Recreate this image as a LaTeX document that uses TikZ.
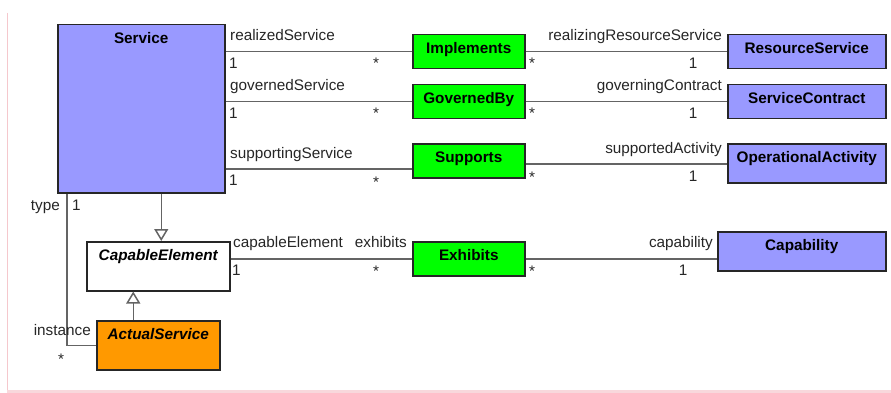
\documentclass[tikz,border=0pt]{standalone}
\usepackage{fontspec}
\setmainfont{Liberation Sans}
\usetikzlibrary{arrows.meta,positioning}
\definecolor{svcblue}{RGB}{153,153,255}
\definecolor{relgreen}{RGB}{0,255,0}
\definecolor{actorange}{RGB}{255,153,0}
\definecolor{lnkgray}{RGB}{100,100,100}
\definecolor{pageedge}{RGB}{245,200,205}

\begin{document}
\begin{tikzpicture}[x=1pt,y=-1pt]
\useasboundingbox (0,0) rectangle (891,393);
\tikzstyle{cls}=[draw=black!85, line width=1.5pt, anchor=north west, inner sep=0pt,
  text height=19pt, font=\fontsize{15.3}{18}\selectfont\bfseries]
\tikzstyle{abs}=[cls, font=\fontsize{15.3}{18}\selectfont\bfseries\itshape]
\tikzstyle{rel}=[cls, fill=relgreen, minimum width=112pt, text depth=15pt]
\tikzstyle{role}=[inner sep=0pt, text=black!85, font=\fontsize{15.3}{18}\selectfont]
\tikzstyle{assoc}=[draw=lnkgray, line width=1.5pt]
\tikzstyle{gen}=[assoc, -{Triangle[open, length=12pt, width=14pt, fill=white]}]
% page edge
\draw[pageedge, line width=0.8pt] (7,13) -- (7,393);
\fill[pageedge!70] (7,390) rectangle (891,393);
% classes
\node[cls, fill=svcblue, minimum width=167pt, text depth=149pt] (svc) at (57,24) {Service};
\node[rel] (impl) at (412,34) {Implements};
\node[rel] (gov) at (412,84) {GovernedBy};
\node[rel] (sup) at (412,143) {Supports};
\node[rel] (exh) at (412,241) {Exhibits};
\node[cls, fill=svcblue, minimum width=158pt, text depth=15pt] (rsvc) at (727,34) {ResourceService};
\node[cls, fill=svcblue, minimum width=158pt, text depth=15pt] (contract) at (727,84) {ServiceContract};
\node[cls, fill=svcblue, minimum width=158pt, text depth=20pt] (opact) at (727,143) {OperationalActivity};
\node[cls, fill=svcblue, minimum width=168pt, text depth=20pt] (capab) at (717,231) {Capability};
\node[abs, fill=white, minimum width=143pt, text depth=30pt] (capel) at (86,241) {CapableElement};
\node[abs, fill=actorange, minimum width=123pt, text depth=30pt] (actsvc) at (96,320) {ActualService};
% associations
\coordinate (supL) at ([yshift=-8pt]sup.west);
\coordinate (supR) at ([yshift=-3pt]sup.east);
\draw[assoc] (svc.east |- impl.west) -- (impl.west);
\draw[assoc] (impl.east) -- (impl.east -| rsvc.west);
\draw[assoc] (svc.east |- gov.west) -- (gov.west);
\draw[assoc] (gov.east) -- (gov.east -| contract.west);
\draw[assoc] (svc.east |- supL) -- (supL);
\draw[assoc] (supR) -- (supR -| opact.west);
\draw[assoc] (capel.east |- exh.west) -- (exh.west);
\draw[assoc] (exh.east) -- (exh.east -| capab.west);
\draw[assoc] ([xshift=10pt]svc.south west) |- (actsvc.west);
% generalizations
\draw[gen] ([xshift=20pt]svc.south) -- ([xshift=20pt]svc.south |- capel.north);
\draw[gen] ([xshift=-25pt]actsvc.north) -- ([xshift=-25pt]actsvc.north |- capel.south);
% role names and multiplicities
\node[role, anchor=base west] (r1) at (230,40.5) {realizedService};
\node[role, anchor=base west] (m1a) at (229,68.5) {1};
\node[role, anchor=base] (m1b) at (376,69) {*};
\node[role, anchor=base east] (r1r) at (722,40.5) {realizingResourceService};
\node[role, anchor=base] (m1c) at (532,69) {*};
\node[role, anchor=base] (m1d) at (693,68.5) {1};
\node[role, anchor=base west] (r2) at (230,90.5) {governedService};
\node[role, anchor=base west] (m2a) at (229,118.5) {1};
\node[role, anchor=base] (m2b) at (376,119) {*};
\node[role, anchor=base east] (r2r) at (722,90.5) {governingContract};
\node[role, anchor=base] (m2c) at (532,119) {*};
\node[role, anchor=base] (m2d) at (693,118.5) {1};
\node[role, anchor=base west] (r3) at (230,158.5) {supportingService};
\node[role, anchor=base west] (m3a) at (229,185.5) {1};
\node[role, anchor=base] (m3b) at (376,187) {*};
\node[role, anchor=base east] (r3r) at (722,153.5) {supportedActivity};
\node[role, anchor=base] (m3c) at (532,182) {*};
\node[role, anchor=base] (m3d) at (693,181.5) {1};
\node[role, anchor=base west] (r4) at (233,247.5) {capableElement};
\node[role, anchor=base east] (r4b) at (407,247.5) {exhibits};
\node[role, anchor=base west] (m4a) at (232,275.5) {1};
\node[role, anchor=base] (m4b) at (376,276) {*};
\node[role, anchor=base east] (r4r) at (713,247.5) {capability};
\node[role, anchor=base] (m4c) at (532,276) {*};
\node[role, anchor=base] (m4d) at (683,275.5) {1};
\node[role, anchor=base east] (rtype) at (60,210.5) {type};
\node[role, anchor=base west] (mtype) at (72,210.5) {1};
\node[role, anchor=base east] (rinst) at (91,335.5) {instance};
\node[role, anchor=base] (minst) at (61,364) {*};
\end{tikzpicture}
\end{document}
